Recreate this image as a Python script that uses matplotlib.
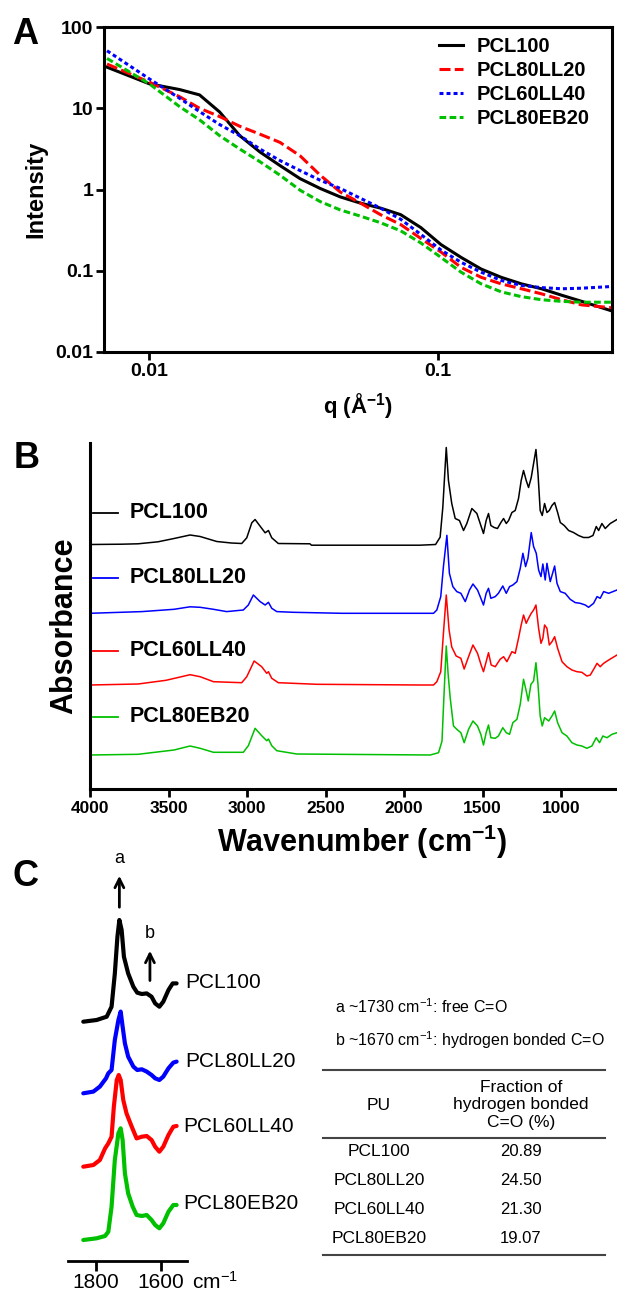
import matplotlib.pyplot as plt
from matplotlib.lines import Line2D

plt.rcParams['font.family'] = ['Liberation Sans', 'DejaVu Sans']
plt.rcParams['mathtext.fontset'] = 'custom'
plt.rcParams['mathtext.rm'] = 'Liberation Sans'
plt.rcParams['mathtext.bf'] = 'Liberation Sans:bold'
plt.rcParams['mathtext.it'] = 'Liberation Sans:italic'

# ---------------- data ----------------
samples = ["PCL100", "PCL80LL20", "PCL60LL40", "PCL80EB20"]

# A: SAXS
q = [0.00714, 0.0100, 0.01272, 0.01493, 0.01752, 0.02057, 0.02415, 0.02835,
     0.03327, 0.03906, 0.04586, 0.05384, 0.06320, 0.07421, 0.08712, 0.1023,
     0.1201, 0.1409, 0.1654, 0.1942, 0.2280, 0.2677, 0.3142, 0.3997]
I_pcl100 = [32, 20, 17, 14.6, 9.0, 4.6, 2.9, 1.97, 1.36, 1.03, 0.81, 0.68,
            0.59, 0.49, 0.34, 0.21, 0.146, 0.105, 0.083, 0.069, 0.060, 0.050,
            0.042, 0.032]
I_pcl80ll20 = [35, 21, 13.9, 10, 7.9, 6.0, 4.8, 3.8, 2.6, 1.5, 0.93, 0.68,
               0.49, 0.37, 0.25, 0.17, 0.11, 0.083, 0.069, 0.060, 0.052, 0.044,
               0.038, 0.035]
I_pcl60ll40 = [51, 23, 13.3, 9.1, 6.3, 4.6, 3.15, 2.27, 1.71, 1.30, 1.03, 0.78,
               0.59, 0.43, 0.28, 0.18, 0.127, 0.096, 0.076, 0.066, 0.062, 0.060,
               0.061, 0.064]
I_pcl80eb20 = [41, 20, 10.5, 7.2, 4.6, 3.15, 2.2, 1.5, 0.98, 0.71, 0.56, 0.47,
               0.39, 0.31, 0.22, 0.146, 0.096, 0.069, 0.055, 0.048, 0.044, 0.042,
               0.041, 0.041]

# B: FTIR full spectra (absorbance above each baseline, arbitrary units)
wn_pcl100 = [4000, 3800, 3694, 3567, 3465, 3363, 3299, 3193, 3100, 3034,
             3002, 2970, 2949, 2917, 2885, 2864, 2843, 2801, 2600, 2590,
             1900, 1800, 1771, 1754, 1732, 1718, 1697, 1675, 1648, 1622,
             1601, 1569, 1537, 1516, 1495, 1478, 1463, 1448, 1427, 1406,
             1384, 1367, 1350, 1335, 1314, 1293, 1272, 1255, 1240, 1223,
             1208, 1191, 1176, 1161, 1148, 1134, 1121, 1106, 1091, 1076,
             1059, 1042, 1023, 1006, 981, 953, 922, 890, 858, 826,
             798, 777, 762, 741, 720, 688, 645]
ab_pcl100 = [0, 0.3, 0.7, 2.7, 6, 9.5, 8, 3, 1.5, 1,
             6.7, 21.7, 25, 18.3, 11.7, 14, 6.7, 1, 0.7, -0.7,
             -0.7, 0, 7.3, 37, 97, 64, 41, 26, 24, 14,
             21, 36, 31, 21, 11, 24, 31, 19, 17, 16,
             22, 26, 21, 24, 32, 34, 46, 64, 74, 64,
             57, 67, 81, 95, 71, 34, 29, 41, 32, 34,
             39, 42, 32, 22, 19, 14, 12, 9, 7, 7,
             9, 18, 14, 21, 16, 21, 25]

wn_pcl80ll20 = [4000, 3669, 3465, 3363, 3299, 3214, 3130, 3024, 2992, 2960,
                2917, 2885, 2864, 2843, 2811, 2705, 2397, 1898, 1813, 1792,
                1767, 1750, 1728, 1712, 1690, 1665, 1639, 1611, 1584, 1562,
                1533, 1516, 1495, 1478, 1463, 1448, 1420, 1400, 1372, 1350,
                1329, 1308, 1282, 1261, 1244, 1227, 1212, 1191, 1176, 1159,
                1144, 1129, 1117, 1102, 1091, 1070, 1042, 1027, 1006, 975,
                943, 911, 879, 847, 826, 794, 772, 752, 730, 698, 645]
ab_pcl80ll20 = [0, 1.7, 4, 6.5, 6, 4, 1.7, 3.3, 8.3, 18.3,
                11.7, 8.3, 11, 5, 1.7, 1, 0, 0, 0, 3.3,
                16.7, 46.7, 78, 40, 26.7, 21.7, 20, 11.7, 23.3, 29.3,
                23.3, 16.7, 8.3, 20, 25, 15, 16.7, 20, 27.3, 20,
                26.7, 28.3, 31.7, 45, 60, 46.7, 55, 80.7, 66.7, 60,
                43.3, 36.7, 49.3, 33.3, 50, 31.7, 47.3, 30, 21.7, 20,
                14, 10.7, 10, 8.3, 6, 10, 16.7, 15, 21.7, 20, 23.3]

wn_pcl60ll40 = [4000, 3694, 3516, 3363, 3299, 3214, 3034, 3002, 2955, 2907,
                2875, 2864, 2843, 2801, 2556, 1898, 1813, 1792, 1767, 1750,
                1732, 1714, 1697, 1669, 1639, 1618, 1590, 1562, 1533, 1510,
                1495, 1478, 1463, 1446, 1420, 1389, 1367, 1346, 1314, 1293,
                1272, 1255, 1240, 1223, 1208, 1191, 1176, 1161, 1144, 1129,
                1117, 1106, 1091, 1076, 1059, 1042, 1023, 995, 964, 932,
                900, 869, 837, 815, 790, 772, 752, 730, 698, 645]
ab_pcl60ll40 = [0, 1, 4.7, 10.3, 8.3, 3.3, 2.3, 8.3, 24, 18.3,
                11.7, 13.3, 6.7, 2.3, 0.7, 0, 0, 3.3, 13.3, 51.7,
                90, 55, 38, 29, 26.7, 16, 28.3, 40, 31.7, 20,
                13.3, 23.3, 32.3, 20, 18.3, 25.7, 28.3, 23.3, 33.3, 31.7,
                46.7, 60, 70, 61.7, 66.7, 71.7, 75, 80, 56.7, 41.7,
                46.7, 60, 56.7, 40, 43.3, 48.3, 36.7, 23.3, 18.3, 15,
                13.3, 12.7, 9, 10, 16.7, 21.7, 18.3, 21.7, 25, 30]

wn_pcl80eb20 = [4000, 3694, 3465, 3363, 3299, 3214, 3024, 2992, 2949, 2907,
                2875, 2864, 2843, 2811, 2684, 1834, 1781, 1759, 1750, 1732,
                1720, 1707, 1686, 1665, 1639, 1618, 1590, 1562, 1533, 1512,
                1495, 1478, 1463, 1448, 1420, 1400, 1372, 1350, 1329, 1308,
                1282, 1261, 1240, 1223, 1210, 1193, 1176, 1161, 1148, 1134,
                1121, 1106, 1080, 1059, 1042, 1023, 995, 964, 932, 900,
                869, 837, 805, 777, 756, 735, 709, 677, 645]
ab_pcl80eb20 = [0, 0.7, 5, 9, 6.7, 2.7, 2.7, 9.3, 26.7, 19.3,
                14.3, 16, 9.3, 4.3, 1, 0, 2.3, 14, 47.3, 109,
                80.7, 57.3, 29, 25.7, 22.3, 12.3, 25.7, 34, 29, 20.7,
                10, 22.3, 30, 17.3, 16.7, 19, 27.3, 22.3, 20.7, 32.3,
                35.7, 50.7, 75.7, 64, 54, 70.7, 74, 92.3, 70.7, 39,
                29, 37.3, 34, 39, 44, 32.3, 22.3, 19, 12.3, 10,
                9, 6.7, 9, 17.3, 12.3, 19, 17.3, 20.7, 22.3]

# C: carbonyl region
wn_c_pcl100 = [1839, 1798, 1767, 1752, 1742, 1734, 1728, 1721, 1714, 1701, 1685,
               1673, 1659, 1644, 1629, 1618, 1605, 1593, 1577, 1564, 1552]
ab_c_pcl100 = [0, 1.7, 5, 15, 48, 85, 101.7, 91.7, 65, 48.3, 35,
               29, 27.7, 28.3, 25, 18.3, 15, 20, 31.7, 38.3, 38.3]
wn_c_pcl80ll20 = [1839, 1808, 1788, 1769, 1762, 1752, 1742, 1731, 1724, 1718, 1711,
                  1701, 1685, 1673, 1659, 1644, 1629, 1618, 1605, 1593, 1577, 1562, 1552]
ab_c_pcl80ll20 = [0, 1.7, 6.7, 15, 20, 23.3, 53.3, 73.3, 81.7, 66.7, 50,
                  36.7, 26.7, 23.3, 24, 21.7, 18.3, 15, 13.3, 16.7, 25, 30.7, 31.7]
wn_c_pcl60ll40 = [1839, 1808, 1788, 1772, 1762, 1752, 1745, 1736, 1730, 1724, 1716,
                  1706, 1690, 1675, 1659, 1644, 1629, 1618, 1605, 1593, 1577, 1562, 1552]
ab_c_pcl60ll40 = [0, 1.7, 6.7, 18.3, 23.3, 30, 60, 86.7, 91.7, 86.7, 66.7,
                  53.3, 40, 28.3, 30, 30.7, 26.7, 20, 15, 20, 31.7, 40, 40.7]
wn_c_pcl80eb20 = [1839, 1798, 1772, 1762, 1752, 1742, 1731, 1724, 1718, 1711, 1701,
                  1687, 1675, 1659, 1644, 1629, 1618, 1605, 1593, 1577, 1562, 1552]
ab_c_pcl80eb20 = [0, 1.7, 4, 8.3, 33.3, 80, 106.7, 111.7, 100, 66.7, 46.7,
                  33.3, 25, 24, 25, 20, 15, 11.7, 16.7, 28.3, 35, 35]

# table
hb_fraction = ["20.89", "24.50", "21.30", "19.07"]

# ---------------- layout ----------------
W, H = 617, 1292


def box(left, top, right, bottom):
    return [left / W, 1 - bottom / H, (right - left) / W, (bottom - top) / H]


def fx(x):
    return x / W


def fy(y):
    return 1 - y / H


fig = plt.figure(figsize=(W / 100, H / 100), dpi=100)

# ================= A =================
axA = fig.add_axes(box(104, 27, 612, 352))
colors_A = ["black", "#ff0000", "#0000ff", "#00c000"]
styles_A = ["-", (0, (3.6, 1.4)), (0, (1.3, 1.0)), (0, (2.2, 1.1))]
for name, I, c, ls in zip(samples, [I_pcl100, I_pcl80ll20, I_pcl60ll40, I_pcl80eb20],
                          colors_A, styles_A):
    axA.plot(q, I, color=c, linestyle=ls, lw=2.2, label=name)

axA.set_xscale("log")
axA.set_yscale("log")
axA.set_xlim(0.00697, 0.40)
axA.set_ylim(0.01, 100)
axA.set_xticks([0.01, 0.1])
axA.set_xticklabels(["0.01", "0.1"])
axA.set_yticks([0.01, 0.1, 1, 10, 100])
axA.set_yticklabels(["0.01", "0.1", "1", "10", "100"])
axA.minorticks_off()
axA.tick_params(direction="out", length=5.8, width=2, labelsize=14, pad=2)
for lbl in axA.get_xticklabels() + axA.get_yticklabels():
    lbl.set_fontweight("bold")
for sp in axA.spines.values():
    sp.set_linewidth(2.2)
axA.set_ylabel("Intensity", fontsize=17, fontweight="bold")
axA.yaxis.set_label_coords(-0.112, 0.5)
axA.set_xlabel(r"q (Å$^{\mathbf{-1}}$)", fontsize=16, fontweight="bold")
axA.xaxis.set_label_coords(0.5, -0.12)
axA.legend(loc="upper left", bbox_to_anchor=(0.659, 0.97), frameon=False,
           handlelength=1.2, handletextpad=0.7, labelspacing=0.26,
           borderpad=0, borderaxespad=0,
           prop={"weight": "bold", "size": 14.5})

# ================= B =================
axB = fig.add_axes(box(90, 443, 617, 789))
colors_B = ["black", "#0000ff", "#ff0000", "#00c000"]
offsets_B = [244.5, 175.7, 104, 34]
label_y_B = [276.3, 211.3, 138.3, 72.3]
spectra_B = [(wn_pcl100, ab_pcl100), (wn_pcl80ll20, ab_pcl80ll20),
             (wn_pcl60ll40, ab_pcl60ll40), (wn_pcl80eb20, ab_pcl80eb20)]
for name, (wn, ab), c, off, ly in zip(samples, spectra_B, colors_B, offsets_B, label_y_B):
    axB.plot(wn, [a + off for a in ab], color=c, lw=1.1)
    axB.plot([3981, 3822], [ly, ly], color=c, lw=1.3)
    axB.text(3745, ly, name, fontsize=15.5, fontweight="bold", va="center", ha="left")

axB.set_xlim(4000, 645)
axB.set_ylim(0, 346)
axB.set_xticks([4000, 3500, 3000, 2500, 2000, 1500, 1000])
axB.set_yticks([])
axB.spines["top"].set_visible(False)
axB.spines["right"].set_visible(False)
axB.spines["left"].set_linewidth(2.2)
axB.spines["bottom"].set_linewidth(2.2)
axB.tick_params(axis="x", direction="out", length=5.8, width=2, labelsize=12.5, pad=2.5)
for lbl in axB.get_xticklabels():
    lbl.set_fontweight("bold")
axB.set_ylabel("Absorbance", fontsize=22, fontweight="bold")
axB.yaxis.set_label_coords(-0.02, 0.471)
axB.set_xlabel(r"Wavenumber (cm$^{\mathbf{-1}}$)", fontsize=22, fontweight="bold")
axB.xaxis.set_label_coords(0.516, -0.096)

# ================= C =================
axC = fig.add_axes(box(68, 855, 187, 1261))
colors_C = ["black", "#0000ff", "#ff0000", "#00c000"]
offsets_C = [239.3, 167.7, 94.3, 21]
spectra_C = [(wn_c_pcl100, ab_c_pcl100), (wn_c_pcl80ll20, ab_c_pcl80ll20),
             (wn_c_pcl60ll40, ab_c_pcl60ll40), (wn_c_pcl80eb20, ab_c_pcl80eb20)]
label_pos_C = [(1526, 278), (1526, 199.3), (1531, 135), (1531, 57.7)]
for name, (wn, ab), c, off, (lx, ly) in zip(samples, spectra_C, colors_C, offsets_C, label_pos_C):
    axC.plot(wn, [a + off for a in ab], color=c, lw=3, solid_capstyle="round",
             solid_joinstyle="round")
    axC.text(lx, ly, name, fontsize=15, va="center", ha="left", clip_on=False)

axC.annotate("", xy=(1728, 388), xytext=(1728, 351),
             arrowprops=dict(arrowstyle="->", lw=2, color="black", mutation_scale=16))
axC.text(1728, 402, "a", fontsize=13, ha="center", va="center")
axC.annotate("", xy=(1634, 313), xytext=(1634, 277.7),
             arrowprops=dict(arrowstyle="->", lw=2, color="black", mutation_scale=16))
axC.text(1634, 327, "b", fontsize=13, ha="center", va="center")

axC.set_xlim(1886, 1520)
axC.set_ylim(0, 406)
axC.set_xticks([1800, 1600])
axC.set_yticks([])
for s in ["top", "right", "left"]:
    axC.spines[s].set_visible(False)
axC.spines["bottom"].set_linewidth(2)
axC.tick_params(axis="x", direction="out", length=7, width=2, labelsize=15, pad=2)
fig.text(fx(192), fy(1282), r"cm$^{-1}$", fontsize=15, ha="left", va="center")

# ---------------- table ----------------
fig.text(fx(335), fy(1007), r"a ~1730 cm$^{-1}$: free C=O", fontsize=11.5,
         ha="left", va="center")
fig.text(fx(335), fy(1040), r"b ~1670 cm$^{-1}$: hydrogen bonded C=O", fontsize=11.5,
         ha="left", va="center")
for yy in [1070, 1137.7, 1255]:
    fig.add_artist(Line2D([fx(323), fx(605)], [fy(yy), fy(yy)], color="#444444", lw=1.5))
fig.text(fx(379), fy(1105), "PU", fontsize=12.5, ha="center", va="center")
fig.text(fx(521), fy(1105), "Fraction of\nhydrogen bonded\nC=O (%)", fontsize=12.5,
         ha="center", va="center", linespacing=1.2)
for i, (name, val) in enumerate(zip(samples, hb_fraction)):
    yy = 1151 + i * 29.3
    fig.text(fx(379), fy(yy), name, fontsize=12.5, ha="center", va="center")
    fig.text(fx(521), fy(yy), val, fontsize=12, ha="center", va="center")

# panel letters
fig.text(fx(25), fy(35), "A", fontsize=26, fontweight="bold", ha="center", va="center")
fig.text(fx(27), fy(458), "B", fontsize=26, fontweight="bold", ha="center", va="center")
fig.text(fx(25), fy(877), "C", fontsize=26, fontweight="bold", ha="center", va="center")

fig.savefig("out.png", dpi=100)
